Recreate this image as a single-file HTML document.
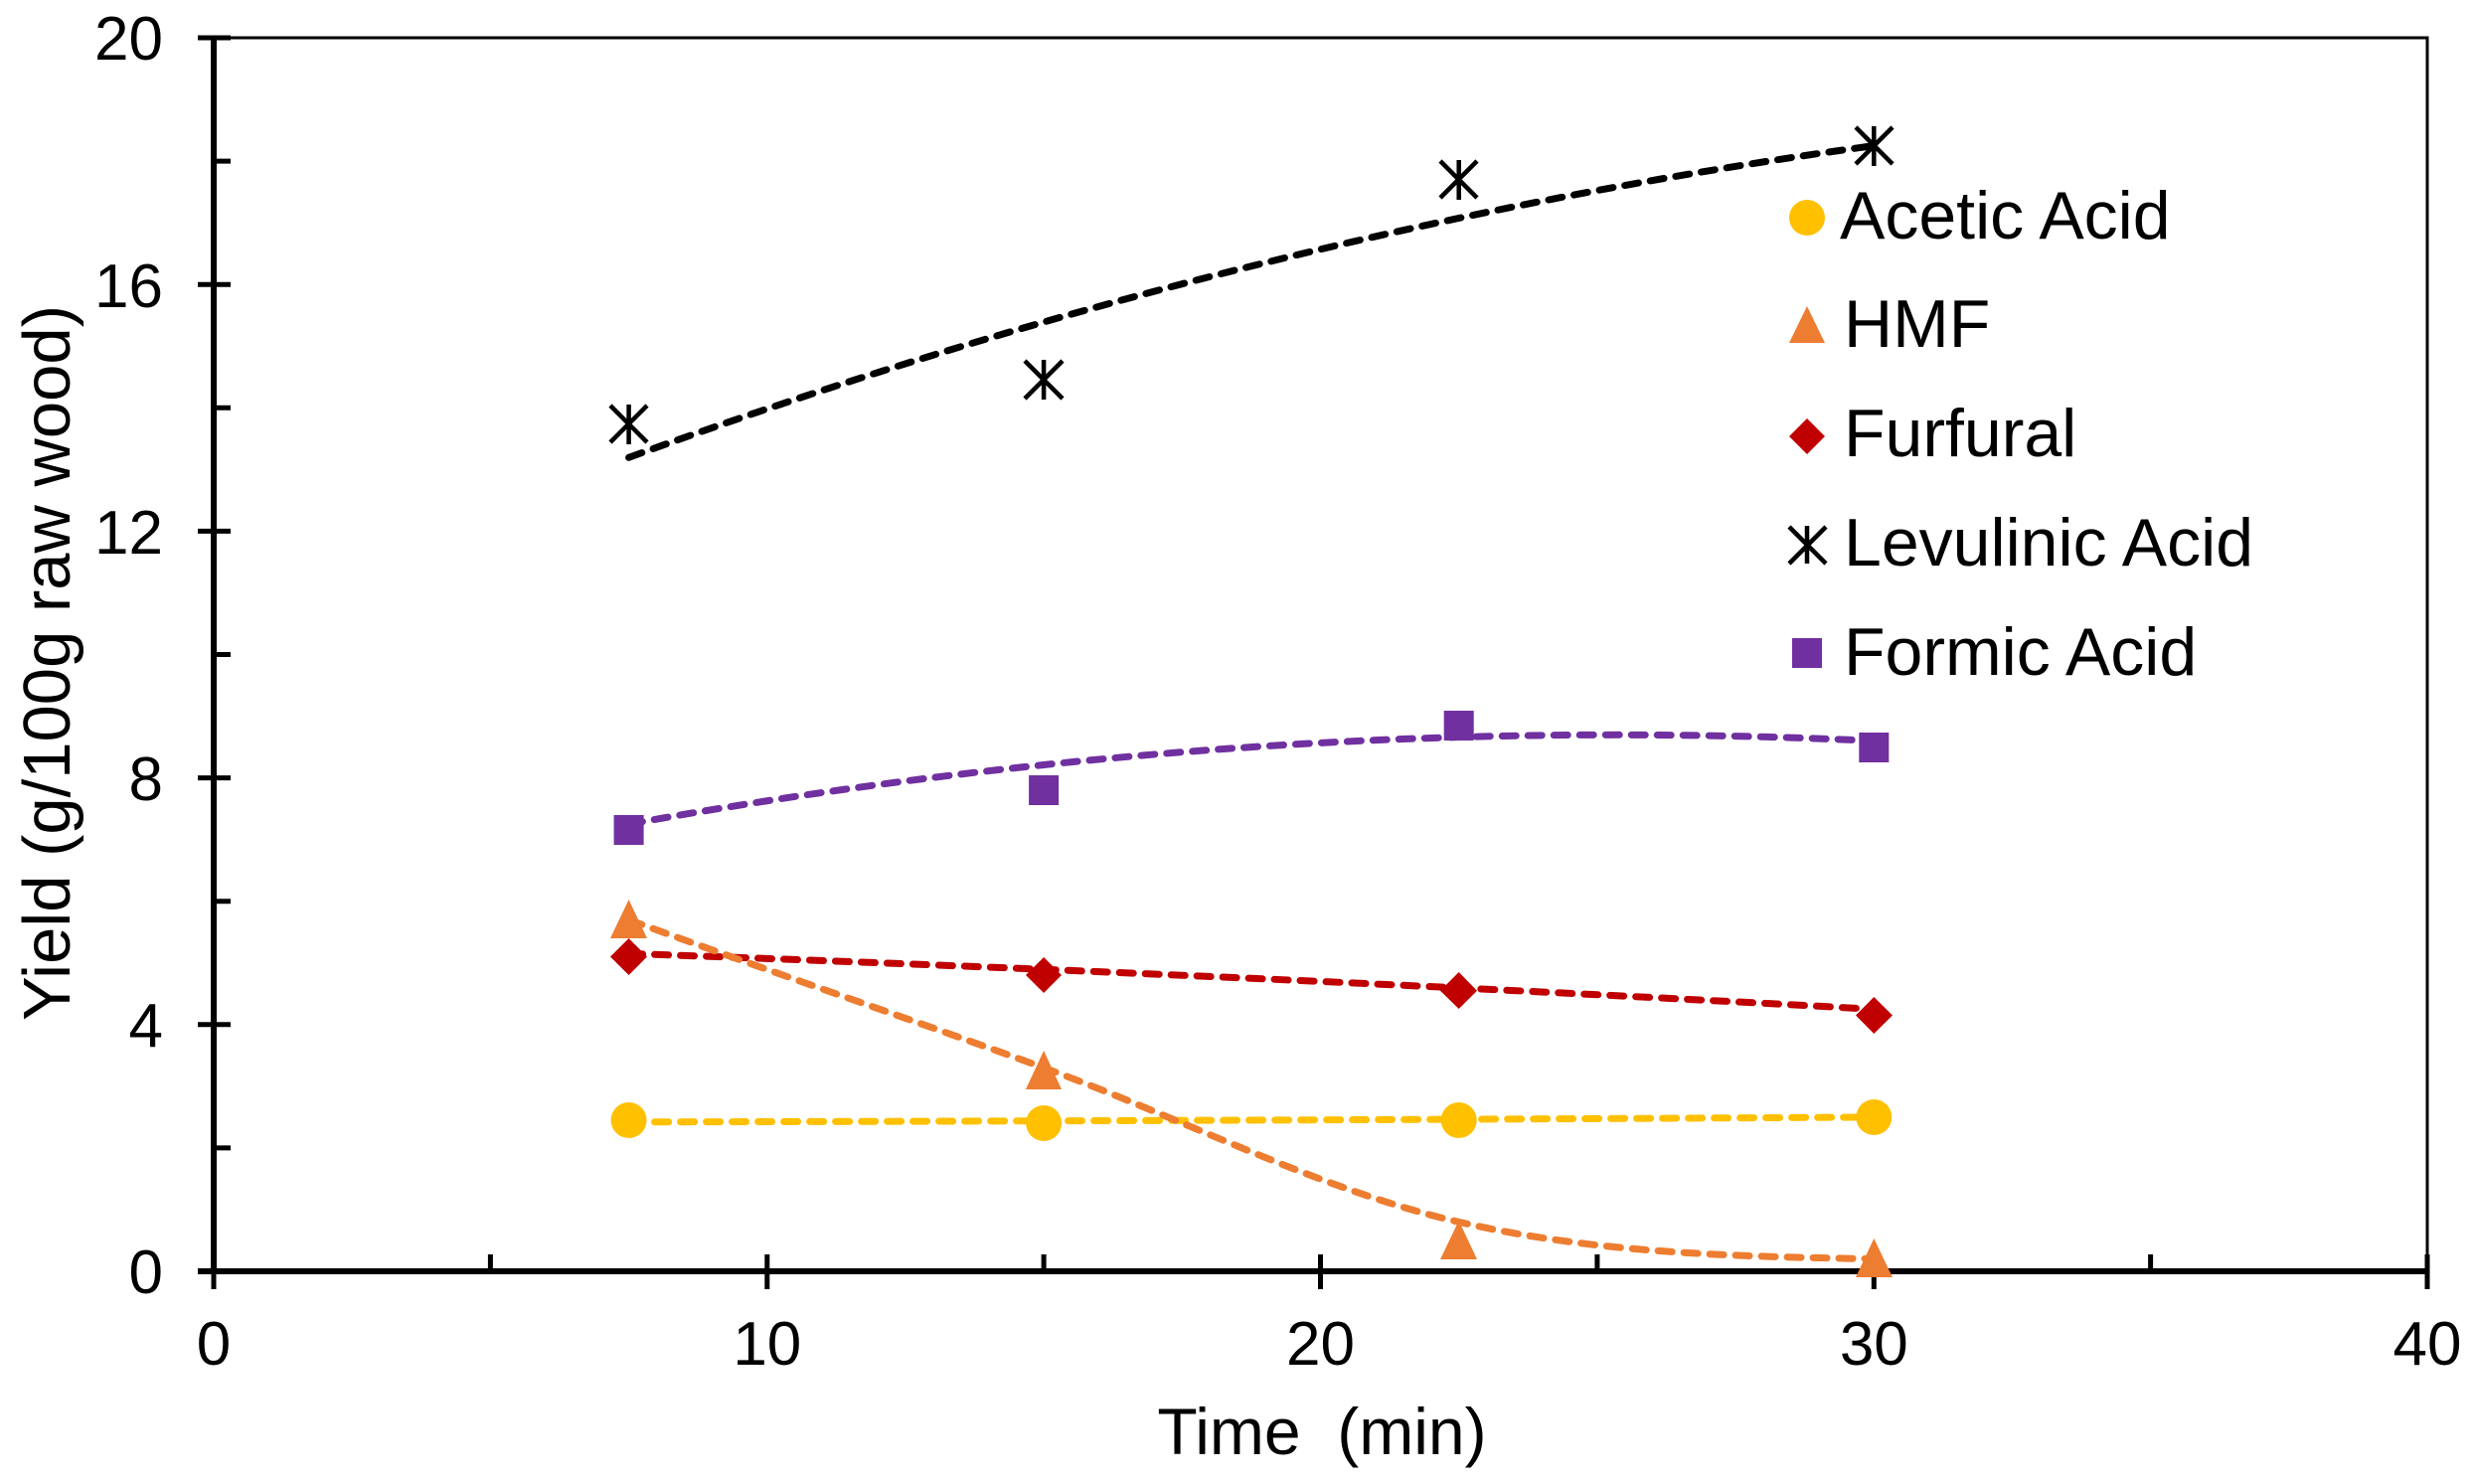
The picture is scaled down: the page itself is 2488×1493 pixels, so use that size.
<!DOCTYPE html>
<html><head><meta charset="utf-8"><style>html,body{margin:0;padding:0;background:#fff}</style></head>
<body>
<svg width="2488" height="1488" viewBox="0 0 2488 1488" xmlns="http://www.w3.org/2000/svg" font-family="Liberation Sans, Arial, sans-serif">
<rect width="2488" height="1488" fill="#fff"/>
<rect x="215" y="38" width="2227" height="1241" fill="none" stroke="#000" stroke-width="3"/>
<line x1="215" y1="38" x2="215" y2="1279" stroke="#000" stroke-width="6"/>
<line x1="199" y1="1279" x2="2442" y2="1279" stroke="#000" stroke-width="6"/>
<g stroke="#000" stroke-width="5">
<line x1="199" y1="1279" x2="232" y2="1279"/>
<line x1="199" y1="1030.8" x2="232" y2="1030.8"/>
<line x1="199" y1="782.6" x2="232" y2="782.6"/>
<line x1="199" y1="534.4" x2="232" y2="534.4"/>
<line x1="199" y1="286.2" x2="232" y2="286.2"/>
<line x1="199" y1="38" x2="232" y2="38"/>
<line x1="215" y1="1154.9" x2="232" y2="1154.9"/>
<line x1="215" y1="906.7" x2="232" y2="906.7"/>
<line x1="215" y1="658.5" x2="232" y2="658.5"/>
<line x1="215" y1="410.3" x2="232" y2="410.3"/>
<line x1="215" y1="162.1" x2="232" y2="162.1"/>
<line x1="215" y1="1262" x2="215" y2="1297"/>
<line x1="771.8" y1="1262" x2="771.8" y2="1297"/>
<line x1="1328.5" y1="1262" x2="1328.5" y2="1297"/>
<line x1="1885.3" y1="1262" x2="1885.3" y2="1297"/>
<line x1="2442" y1="1262" x2="2442" y2="1297"/>
<line x1="493.4" y1="1262" x2="493.4" y2="1279"/>
<line x1="1050.1" y1="1262" x2="1050.1" y2="1279"/>
<line x1="1606.9" y1="1262" x2="1606.9" y2="1279"/>
<line x1="2163.6" y1="1262" x2="2163.6" y2="1279"/>
</g>
<g font-size="62" fill="#000" text-anchor="end">
<text x="164" y="1301">0</text>
<text x="164" y="1053">4</text>
<text x="164" y="805">8</text>
<text x="164" y="557">12</text>
<text x="164" y="309">16</text>
<text x="164" y="60">20</text>
</g>
<g font-size="62" fill="#000" text-anchor="middle">
<text x="215" y="1373">0</text>
<text x="771.8" y="1373">10</text>
<text x="1328.5" y="1373">20</text>
<text x="1885.3" y="1373">30</text>
<text x="2442" y="1373">40</text>
</g>
<text x="1330" y="1463" font-size="66" text-anchor="middle" xml:space="preserve">Time  (min)</text>
<text transform="translate(70,667) rotate(-90)" font-size="67" text-anchor="middle">Yield (g/100g raw wood)</text>

<g fill="none" stroke-width="7" stroke-linecap="round" stroke-dasharray="14 12">
<path d="M632.6,460.3 Q1259,232.1 1885.3,146.6" stroke="#000"/>
<path d="M632.6,829.1 Q1259,715.9 1885.3,745.4" stroke="#7030a0"/>
<path d="M632.6,959.4 Q1259,981.2 1885.3,1015.3" stroke="#c00000"/>
<path d="M632.6,1128.8 Q1259,1127.6 1885.3,1123.9" stroke="#ffc000"/>
<path d="M632.6,925.3 C771.8,976.5 911,1023.5 1050.1,1074.2 C1189,1124.9 1328.5,1197.4 1467.7,1229.4 C1606.9,1261.4 1746,1264 1885.3,1266.6" stroke="#ed7d31"/>
</g>

<g fill="#ffc000">
<circle cx="632.6" cy="1127" r="18"/>
<circle cx="1050.1" cy="1130" r="18"/>
<circle cx="1467.7" cy="1127" r="18"/>
<circle cx="1885.3" cy="1124" r="18"/>
</g>
<g fill="#ed7d31">
<polygon points="632.6,905 614,944 651,944"/>
<polygon points="1050.1,1057 1032,1096 1068,1096"/>
<polygon points="1467.7,1228 1449,1267 1486,1267"/>
<polygon points="1885.3,1246 1867,1285 1904,1285"/>
</g>
<g fill="#c00000">
<polygon points="632.6,944 651,962.5 632.6,981 614,962.5"/>
<polygon points="1050.1,963 1068,981 1050.1,999 1032,981"/>
<polygon points="1467.7,978 1486,996.7 1467.7,1015 1449,996.7"/>
<polygon points="1885.3,1003 1904,1021.5 1885.3,1040 1867,1021.5"/>
</g>
<g fill="#7030a0">
<rect x="617.6" y="820" width="30" height="30"/>
<rect x="1035.1" y="780" width="30" height="30"/>
<rect x="1452.7" y="715" width="30" height="30"/>
<rect x="1870.3" y="737" width="30" height="30"/>
</g>
<g stroke="#000" stroke-width="4.5" fill="none">
<path d="M632.6,407v40M614,408l37,37M651,408l-37,37"/>
<path d="M1050.1,362v40M1031,363l38,38M1069,363l-38,38"/>
<path d="M1467.7,161v40M1449,162l37,37M1486,162l-37,37"/>
<path d="M1885.3,127v40M1867,128l37,37M1904,128l-37,37"/>
</g>

<circle cx="1818" cy="219" r="18" fill="#ffc000"/>
<polygon points="1818,308 1800,345 1836,345" fill="#ed7d31"/>
<polygon points="1818,421 1836,439 1818,457 1800,439" fill="#c00000"/>
<path d="M1818,529v38M1800,530l37,37M1837,530l-37,37" stroke="#000" stroke-width="4.5"/>
<rect x="1803" y="642" width="30" height="30" fill="#7030a0"/>
<g font-size="68" fill="#000">
<text x="1851" y="240">Acetic Acid</text>
<text x="1855" y="349">HMF</text>
<text x="1855" y="459">Furfural</text>
<text x="1855" y="569">Levulinic Acid</text>
<text x="1855" y="679">Formic Acid</text>
</g>
</svg>
</body></html>
